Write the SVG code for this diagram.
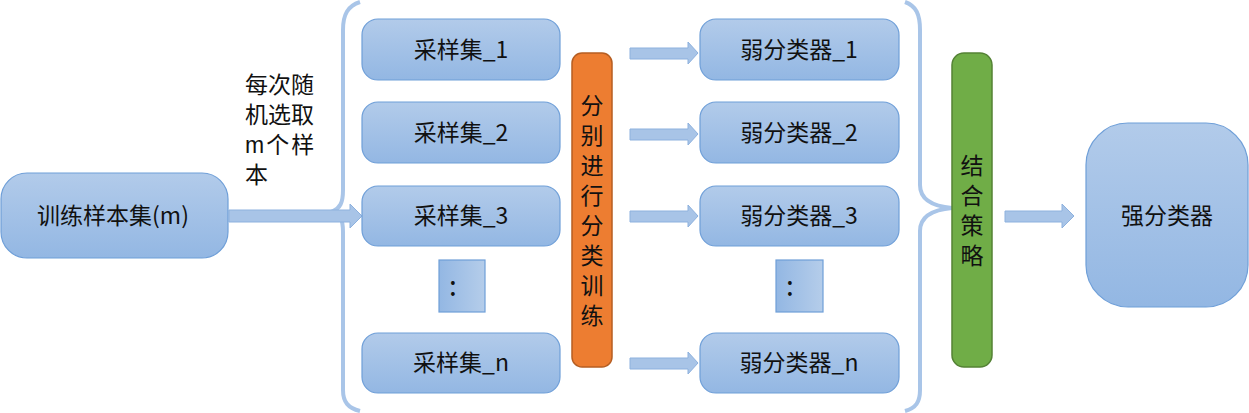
<svg xmlns="http://www.w3.org/2000/svg" width="1249" height="413" viewBox="0 0 1249 413">
<defs>
<linearGradient id="gv" x1="0" y1="0" x2="0" y2="1"><stop offset="0" stop-color="#b2cbea"/><stop offset="1" stop-color="#93b7e3"/></linearGradient>
<linearGradient id="gh" x1="0" y1="0" x2="1" y2="0"><stop offset="0" stop-color="#93b7e3"/><stop offset="1" stop-color="#b5cdea"/></linearGradient>
</defs>
<style>
.box{fill:url(#gv);stroke:#6f9fd8;stroke-width:1.2}
.dots{fill:url(#gh);stroke:#6f9fd8;stroke-width:1.2}
.t{font-family:"Noto Sans CJK SC","Noto Sans",sans-serif;font-size:23px;fill:#111;text-anchor:middle}
.tl{font-family:"Liberation Sans","Noto Sans CJK SC",sans-serif;font-size:23px;fill:#111}
.v{font-family:"Noto Sans CJK SC","Noto Sans",sans-serif;font-size:23px;fill:#111;text-anchor:middle;writing-mode:vertical-rl;text-orientation:upright;letter-spacing:7px}
.arr{fill:#a8c4e7;stroke:#8db1de;stroke-width:1}
.brace{fill:none;stroke:#a9c5e8;stroke-width:4}
</style>
<g id="connectors">
<path class="brace" d="M360,2 C348,6 343,14 343,30 L343,190 C343,203 340,208 333,211 C340,214 343,219 343,232 L343,390 C343,402 348,408 360,411"/>
<path class="brace" d="M905,2 C916,6 920,14 920,30 L920,185 C920,198 930,206 952,208 C930,210 920,218 920,231 L920,390 C920,402 916,408 905,411"/>
<path class="arr" d="M229,210 L350,210 L350,204 L362,216 L350,228 L350,222 L229,222 Z"/>
<path class="arr" d="M630,48 L688,48 L688,42 L698,53 L688,64 L688,59 L630,59 Z"/>
<path class="arr" d="M630,129 L688,129 L688,123 L698,134 L688,145 L688,140 L630,140 Z"/>
<path class="arr" d="M630,211 L688,211 L688,205 L698,216 L688,227 L688,222 L630,222 Z"/>
<path class="arr" d="M630,358 L688,358 L688,352 L698,363 L688,374 L688,369 L630,369 Z"/>
<path class="arr" d="M1005,211 L1062,211 L1062,204 L1074,216 L1062,228 L1062,222 L1005,222 Z"/>
</g>
<g id="label-sample">
<text class="tl"><tspan x="245" y="93">每次随</tspan><tspan x="245" y="123">机选取</tspan><tspan x="245" y="153" letter-spacing="2">m个样</tspan><tspan x="245" y="183">本</tspan></text>
</g>
<g id="train"><rect class="box" x="1" y="173" width="227" height="85" rx="26"/><text class="t" x="113" y="224">训练样本集(m)</text></g>
<g id="s1"><rect class="box" x="362" y="19" width="198" height="61" rx="16"/><text class="t" x="461" y="58">采样集_1</text></g>
<g id="s2"><rect class="box" x="362" y="102" width="198" height="61" rx="16"/><text class="t" x="461" y="141">采样集_2</text></g>
<g id="s3"><rect class="box" x="362" y="186" width="198" height="60" rx="16"/><text class="t" x="461" y="224">采样集_3</text></g>
<g id="sdots"><rect class="dots" x="439" y="260" width="46" height="52"/><text class="t" x="453" y="296" style="font-size:28px">:</text></g>
<g id="sn"><rect class="box" x="362" y="333" width="198" height="60" rx="16"/><text class="t" x="461" y="371">采样集_n</text></g>
<g id="train-bar"><rect x="572" y="53" width="40" height="314" rx="10" fill="#ed7d31" stroke="#b65e22" stroke-width="1.5"/>
<text class="v" x="592" y="214">分别进行分类训练</text></g>
<g id="w1"><rect class="box" x="700" y="19" width="199" height="61" rx="16"/><text class="t" x="799" y="58">弱分类器_1</text></g>
<g id="w2"><rect class="box" x="700" y="102" width="199" height="61" rx="16"/><text class="t" x="799" y="141">弱分类器_2</text></g>
<g id="w3"><rect class="box" x="700" y="186" width="199" height="60" rx="16"/><text class="t" x="799" y="224">弱分类器_3</text></g>
<g id="wdots"><rect class="dots" x="776" y="260" width="47" height="52"/><text class="t" x="790" y="296" style="font-size:28px">:</text></g>
<g id="wn"><rect class="box" x="700" y="333" width="199" height="60" rx="16"/><text class="t" x="799" y="371">弱分类器_n</text></g>
<g id="combine-bar"><rect x="952" y="53" width="40" height="314" rx="12" fill="#70ad47" stroke="#548235" stroke-width="1.5"/>
<text class="v" x="972" y="214">结合策略</text></g>
<g id="strong"><rect class="box" x="1086" y="123" width="162" height="184" rx="42"/><text class="t" x="1167" y="224">强分类器</text></g>
</svg>
